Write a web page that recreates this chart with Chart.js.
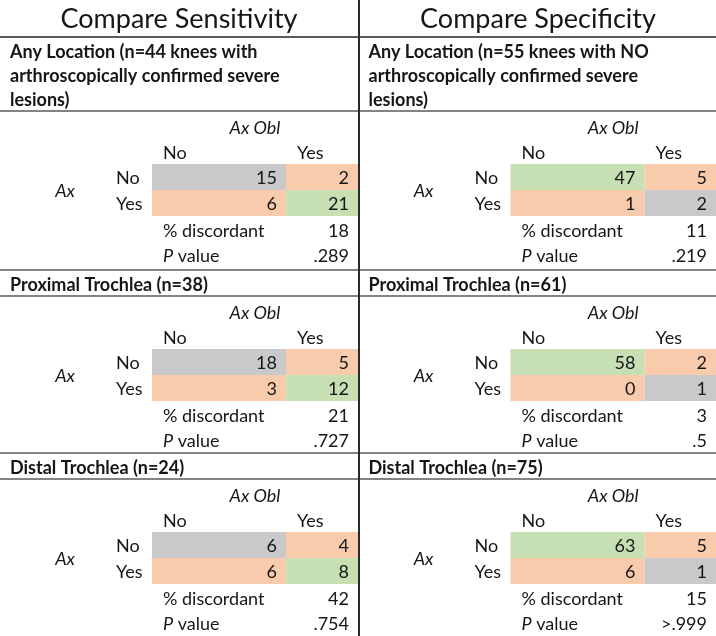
<!DOCTYPE html>
<html>
<head>
<meta charset="utf-8">
<script src="https://cdn.jsdelivr.net/npm/chart.js@4"></script>
<style>
  body { margin: 0; background: #fff; }
  #wrap { width: 716px; height: 636px; }
</style>
</head>
<body>
<div id="wrap"><canvas id="myChart" width="716" height="636"></canvas></div>
<script>
// panel + section labels
const panelTitles = ['Compare Sensitivity', 'Compare Specificity'];
const sensSections = [
    ['Any Location (n=44 knees with', 'arthroscopically confirmed severe', 'lesions)'],
    ['Proximal Trochlea (n=38)'],
    ['Distal Trochlea (n=24)']
];
const specSections = [
    ['Any Location (n=55 knees with NO', 'arthroscopically confirmed severe', 'lesions)'],
    ['Proximal Trochlea (n=61)'],
    ['Distal Trochlea (n=75)']
];
const colLabels = ['No', 'Yes'];
const rowLabels = ['No', 'Yes'];

// 2x2 counts: [Ax No/AxObl No, Ax No/AxObl Yes, Ax Yes/AxObl No, Ax Yes/AxObl Yes]
const sensCounts = [[15, 2, 6, 21], [18, 5, 3, 12], [6, 4, 6, 8]];
const specCounts = [[47, 5, 1, 2], [58, 2, 0, 1], [63, 5, 6, 1]];
const sensDiscordant = [18, 21, 42];
const specDiscordant = [11, 3, 15];
const sensPValues = ['.289', '.727', '.754'];
const specPValues = ['.219', '.5', '>.999'];

const GREY = '#c9c9c9', PEACH = '#f8cbad', GREEN = '#c6e0b4';
const INK = '#161616', RULE = '#5a5a5a';
const FONT = 'Lato, "Open Sans", sans-serif';
const BODY = '18px ' + FONT;
const ITAL = 'italic 18px ' + FONT;

// section geometry (value units of the hidden axes)
const sectionTop = [37, 270, 453];

function panelLayout(p) {
    const off = p === 0 ? 0 : 358.5;
    return {
        off: off,
        right: p === 0 ? 358 : 716,
        colL: [152 + off, 286 + off],
        colR: [286 + off, p === 0 ? 358 : 716]
    };
}

const tablePlugin = {
    id: 'tablePlugin',
    afterDraw(chart) {
        const ctx = chart.ctx;
        const xs = chart.scales.x, ys = chart.scales.y;
        const X = v => xs.getPixelForValue(v);
        const Y = v => ys.getPixelForValue(v);

        function hline(x0, x1, y, w) {
            ctx.strokeStyle = RULE;
            ctx.lineWidth = w;
            ctx.beginPath();
            ctx.moveTo(X(x0), Y(y));
            ctx.lineTo(X(x1), Y(y));
            ctx.stroke();
        }
        function text(str, x, y, font, align) {
            ctx.font = font;
            ctx.fillStyle = INK;
            ctx.textAlign = align || 'left';
            ctx.textBaseline = 'middle';
            ctx.fillText(str, X(x), Y(y));
        }
        function rect(x0, x1, y0, y1, color) {
            ctx.fillStyle = color;
            ctx.fillRect(X(x0), Y(y0), X(x1) - X(x0), Y(y1) - Y(y0));
        }

        ctx.save();
        [0, 1].forEach(p => {
            const lay = panelLayout(p);
            const x0 = p === 0 ? 0 : 360;
            const sections = p === 0 ? sensSections : specSections;
            const counts = p === 0 ? sensCounts : specCounts;
            const disc = p === 0 ? sensDiscordant : specDiscordant;
            const pv = p === 0 ? sensPValues : specPValues;

            text(panelTitles[p], (x0 + lay.right) / 2, 19, '27px ' + FONT, 'center');

            sections.forEach((lines, s) => {
                const top = sectionTop[s];
                hline(x0, lay.right, top, s === 0 ? 2 : 1.5);
                lines.forEach((ln, i) => {
                    text(ln, lay.off + 10, top + 15 + i * 24, 'bold 18px ' + FONT);
                });
                const L = top + 15 + (lines.length - 1) * 24 + 11;
                hline(x0, lay.right, L, 1.5);

                // column header
                const midCols = (lay.colL[0] + lay.colR[1]) / 2;
                text('Ax Obl', midCols, L + 17, ITAL, 'center');
                colLabels.forEach((c, j) => text(c, lay.colL[j] + 11, L + 42, BODY));

                // cells
                const rowTop = [L + 53, L + 79];
                const rowBot = [L + 79, L + 105];
                for (let r = 0; r < 2; r++) {
                    for (let c = 0; c < 2; c++) {
                        let color = PEACH;
                        if (r === c) {
                            const agreeYes = r === 1;
                            color = (p === 0) === agreeYes ? GREEN : GREY;
                        }
                        rect(lay.colL[c], lay.colR[c], rowTop[r], rowBot[r], color);
                        text(String(counts[s][r * 2 + c]), lay.colR[c] - 9, (rowTop[r] + rowBot[r]) / 2 + 1, BODY, 'right');
                    }
                    text(rowLabels[r], lay.off + 116, (rowTop[r] + rowBot[r]) / 2 + 1, BODY);
                }
                text('Ax', lay.off + 65, L + 80, ITAL, 'center');

                // stats
                text('% discordant', lay.colL[0] + 11, L + 120, BODY);
                text(String(disc[s]), lay.colR[1] - 9, L + 120, BODY, 'right');
                ctx.font = ITAL;
                const pw = ctx.measureText('P').width;
                text('P', lay.colL[0] + 11, L + 145, ITAL);
                text(' value', lay.colL[0] + 11 + pw, L + 145, BODY);
                text(pv[s], lay.colR[1] - 9, L + 145, BODY, 'right');
            });
        });

        // vertical divider
        ctx.strokeStyle = '#2a2a2a';
        ctx.lineWidth = 2;
        ctx.beginPath();
        ctx.moveTo(X(359), Y(0));
        ctx.lineTo(X(359), Y(636));
        ctx.stroke();
        ctx.restore();
    }
};

new Chart(document.getElementById('myChart').getContext('2d'), {
    type: 'scatter',
    data: { datasets: [{ data: [] }] },
    options: {
        responsive: false,
        animation: false,
        layout: { padding: 0 },
        plugins: { legend: { display: false }, tooltip: { enabled: false } },
        scales: {
            x: { type: 'linear', min: 0, max: 716, display: false },
            y: { type: 'linear', min: 0, max: 636, reverse: true, display: false }
        }
    },
    plugins: [tablePlugin]
});
</script>
</body>
</html>
